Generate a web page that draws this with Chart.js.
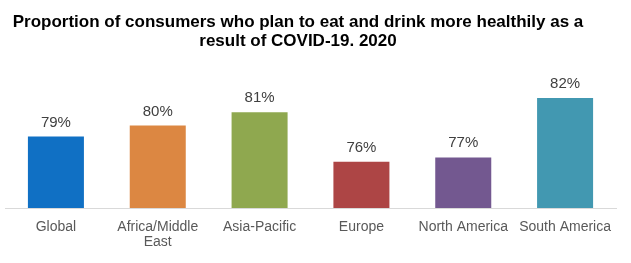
<!DOCTYPE html>
<html>
<head>
<meta charset="utf-8">
<script src="https://cdn.jsdelivr.net/npm/chart.js@4/dist/chart.umd.min.js"></script>
<style>
    html, body { margin: 0; padding: 0; background: #fff; }
    #wrap { width: 631px; height: 263px; position: relative; }
</style>
</head>
<body>
<div id="wrap"><canvas id="chart"></canvas></div>
<script>
// Regions and share of consumers (%) - bar heights,
// labels show the rounded value
const regions = ['Global', ['Africa/Middle', 'East'], 'Asia-Pacific', 'Europe', 'North America', 'South America'];
const shares = [78.6, 79.6, 80.8, 76.3, 76.7, 82.1];
const barColors = ['#1070c4', '#dc8742', '#8fa84f', '#ad4545', '#735890', '#4298b1'];
const titleLines = ['Proportion of consumers who plan to eat and drink more healthily as a', 'result of COVID-19. 2020'];

// Title drawn by hand so it sits where the original has it
const titlePlugin = {
    id: 'titleText',
    afterDraw(chart) {
        const ctx = chart.ctx;
        ctx.save();
        ctx.font = 'bold 17px "Liberation Sans", Arial, sans-serif';
        ctx.fillStyle = '#000';
        ctx.textAlign = 'center';
        ctx.textBaseline = 'alphabetic';
        ctx.fillText(titleLines[0], 298, 27);
        ctx.fillText(titleLines[1], 298, 46);
        ctx.restore();
    }
};

// Value labels above the bars
const valueLabels = {
    id: 'valueLabels',
    afterDatasetsDraw(chart) {
        const ctx = chart.ctx;
        const meta = chart.getDatasetMeta(0);
        ctx.save();
        ctx.font = '15px "Liberation Sans", Arial, sans-serif';
        ctx.fillStyle = '#404040';
        ctx.textAlign = 'center';
        ctx.textBaseline = 'alphabetic';
        meta.data.forEach((bar, i) => {
            ctx.fillText(Math.round(shares[i]) + '%', bar.x, bar.y - 10);
        });
        ctx.restore();
    }
};

const padTop = 70;
const pxPerUnit = 11;
const yMin = 72.1;
const yMax = yMin + (208 - padTop) / pxPerUnit;

new Chart(document.getElementById('chart'), {
    type: 'bar',
    data: {
        labels: regions,
        datasets: [{
            data: shares,
            backgroundColor: barColors,
            borderWidth: 0,
            categoryPercentage: 1,
            barPercentage: 0.55
        }]
    },
    options: {
        responsive: true,
        maintainAspectRatio: false,
        animation: false,
        events: [],
        layout: { padding: { top: padTop, left: 5, right: 15, bottom: 0 } },
        plugins: {
            legend: { display: false },
            title: { display: false },
            tooltip: { enabled: false }
        },
        scales: {
            x: {
                grid: { display: false },
                border: { color: '#d9d9d9', width: 1 },
                ticks: {
                    color: '#595959',
                    font: { family: '"Liberation Sans", Arial, sans-serif', size: 14, lineHeight: 1.07 },
                    padding: 4,
                    maxRotation: 0,
                    autoSkip: false
                },
                afterFit(scale) { scale.height = 55; }
            },
            y: {
                display: false,
                min: yMin,
                max: yMax
            }
        }
    },
    plugins: [titlePlugin, valueLabels]
});
</script>
</body>
</html>
